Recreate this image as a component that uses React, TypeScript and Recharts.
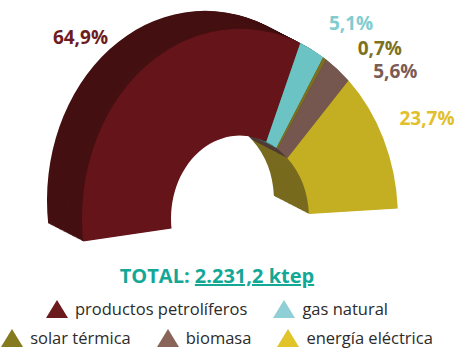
import { PieChart, Pie, Cell } from "recharts";

document.body.style.margin = "0";

const categories = [
  "productos petrolíferos",
  "gas natural",
  "solar térmica",
  "biomasa",
  "energía eléctrica",
];
const values = [64.9, 5.1, 0.7, 5.6, 23.7];
const valueLabels = ["64,9%", "5,1%", "0,7%", "5,6%", "23,7%"];
const totalLabel = "2.231,2 ktep";

const frontColors = ["#65141a", "#6cc3c3", "#7c7020", "#765750", "#c4ae22"];
const sideColors = ["#441011", "#3f7f80", "#5a5216", "#4f3a35", "#786a1e"];
const labelColors = ["#6e1c1f", "#80cdd0", "#7d7220", "#7a5b55", "#e2c02c"];
const legendColors = ["#6b1a1e", "#8fcfd5", "#857a1f", "#8a6459", "#e0c42a"];

// fan the slice labels apart a bit
const labelShift = [9.2, -7.2, -12.2, -13.4, -0.6];
const labelRadius = [220, 197, 199, 198, 205];

const data = categories.map((name, i) => ({ name, value: values[i] }));

// the ring is drawn round, then stretched vertically for the tilted look
const STRETCH = 1.2;
const CX = 240;
const CY = 182;
const INNER = 69;
const OUTER = 158;
const START = 187;
const END = 3;
const DEPTH_X = -35;
const DEPTH_Y = -15;
const LAYERS = 32;
const RAD = Math.PI / 180;

const renderLabel = (props: any) => {
  const i = props.index;
  const a = (props.midAngle + labelShift[i]) * RAD;
  const r = labelRadius[i];
  const x = props.cx + r * Math.cos(a);
  const y = props.cy - r * Math.sin(a);
  return (
    <text
      transform={`translate(${x},${y}) scale(1,${1 / STRETCH})`}
      textAnchor="middle"
      dominantBaseline="central"
      fill={labelColors[i]}
      fontSize={19}
      fontWeight={700}
      fontFamily="'Open Sans', sans-serif"
    >
      {valueLabels[i]}
    </text>
  );
};

const Triangle = ({ color }: { color: string }) => (
  <svg width={22} height={18} style={{ marginRight: 7, flexShrink: 0 }}>
    <polygon points="11,0 22,18 0,18" fill={color} />
  </svg>
);

const LegendItem = ({ i, last }: { i: number; last?: boolean }) => (
  <div
    style={{
      display: "flex",
      alignItems: "center",
      marginRight: last ? 0 : 26,
      whiteSpace: "nowrap",
      flexShrink: 0,
    }}
  >
    <Triangle color={legendColors[i]} />
    <span>{categories[i]}</span>
  </div>
);

export default function App() {
  const layers = [];
  for (let k = LAYERS; k >= 1; k--) {
    const t = k / LAYERS;
    layers.push(
      <Pie
        key={`layer-${k}`}
        data={data}
        dataKey="value"
        cx={CX + DEPTH_X * t}
        cy={CY + DEPTH_Y * t}
        innerRadius={INNER}
        outerRadius={OUTER}
        startAngle={START}
        endAngle={END}
        stroke="none"
        legendType="none"
        isAnimationActive={false}
      >
        {data.map((_, i) => (
          <Cell key={`side-${k}-${i}`} fill={sideColors[i]} />
        ))}
      </Pie>
    );
  }

  return (
    <div style={{ position: "relative", width: 469, height: 355 }}>
      <div
        style={{
          position: "absolute",
          left: 0,
          top: 0,
          transform: `scaleY(${STRETCH})`,
          transformOrigin: "0 0",
        }}
      >
        <PieChart width={469} height={212} margin={{ top: 0, right: 0, bottom: 0, left: 0 }}>
          {layers}
          <Pie
            data={data}
            dataKey="value"
            cx={CX}
            cy={CY}
            innerRadius={INNER}
            outerRadius={OUTER}
            startAngle={START}
            endAngle={END}
            stroke="none"
            label={renderLabel}
            labelLine={false}
            isAnimationActive={false}
          >
            {data.map((_, i) => (
              <Cell key={`front-${i}`} fill={frontColors[i]} />
            ))}
          </Pie>
        </PieChart>
      </div>
      <div
        style={{
          position: "absolute",
          left: 0,
          top: 262,
          width: 434,
          fontFamily: "'Open Sans', sans-serif",
          color: "#2b2b2b",
          fontSize: 16.5,
        }}
      >
        <div
          style={{
            textAlign: "center",
            color: "#13a896",
            fontWeight: 700,
            fontSize: 20,
            marginBottom: 5,
            whiteSpace: "nowrap",
          }}
        >
          TOTAL: <span style={{ textDecoration: "underline" }}>{totalLabel}</span>
        </div>
        <div style={{ display: "flex", justifyContent: "center", height: 29 }}>
          <LegendItem i={0} />
          <LegendItem i={1} last />
        </div>
        <div style={{ display: "flex", justifyContent: "center", height: 29 }}>
          <LegendItem i={2} />
          <LegendItem i={3} />
          <LegendItem i={4} last />
        </div>
      </div>
    </div>
  );
}
